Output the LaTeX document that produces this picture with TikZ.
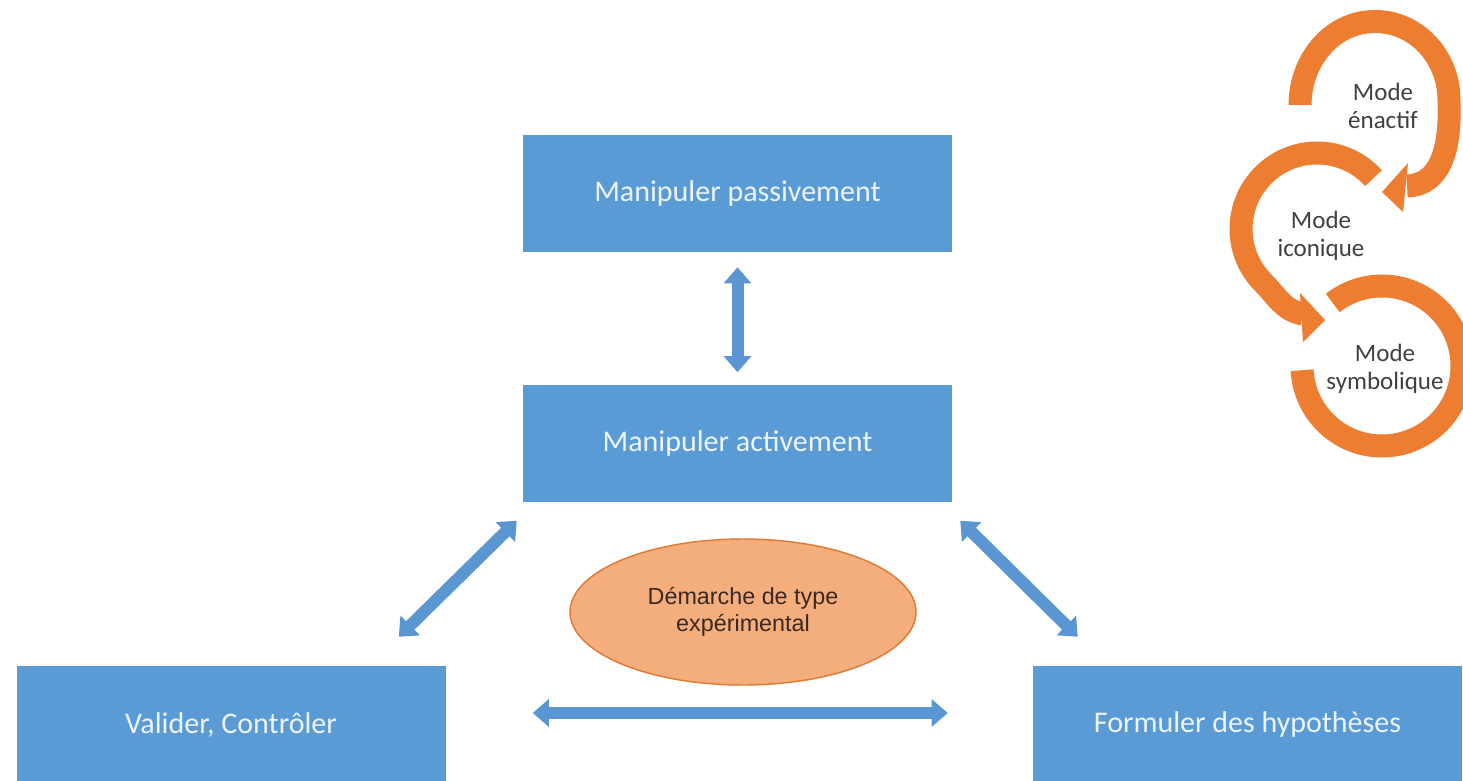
\documentclass[tikz,border=0pt]{standalone}
\usepackage{fontspec}
\setmainfont{Carlito}
\newfontfamily\arialf{Liberation Sans}
\usetikzlibrary{arrows.meta,shapes.geometric,calc}
\definecolor{boxblue}{HTML}{5B9BD5}
\definecolor{arrblue}{HTML}{5A96D2}
\definecolor{orng}{HTML}{ED7D31}
\definecolor{ellfill}{HTML}{F4AE7E}
\definecolor{elldraw}{HTML}{E07A35}
\definecolor{boxtext}{RGB}{236,244,252}
\definecolor{modetext}{HTML}{404040}
\definecolor{elltext}{RGB}{60,40,30}
\begin{document}
\begin{tikzpicture}[x=0.75pt,y=0.75pt,
  bluebox/.style={rectangle, fill=boxblue, minimum width=321.75pt, minimum height=87.75pt,
    inner sep=0pt, text=boxtext, font=\fontsize{22.5}{27}\selectfont},
  dbl/.style={draw=arrblue, line width=9pt,
    {Triangle[width=20pt,length=12pt]}-{Triangle[width=20pt,length=12pt]}},
  cyc/.style={draw=orng, line width=17.25pt},
  head/.style={fill=orng},
  modelabel/.style={text=modetext, align=center, inner sep=0pt,
    font=\fontsize{18.75}{21}\selectfont}
]
\useasboundingbox (0,0) rectangle (1463,-781);
\fill[white] (0,0) rectangle (1463,-781);

% boxes
\node[bluebox] (pp) at (737.5,-193.5) {Manipuler passivement};
\node[bluebox] (pa) at (737.5,-443) {Manipuler activement};
\node[bluebox] (vc) at (231,-724.5) {Valider, Contrôler};
\node[bluebox] (fh) at (1247.5,-724.5) {Formuler des hypothèses};

% ellipse
\node[ellipse, fill=ellfill, draw=elldraw, line width=1.1pt, minimum width=259.5pt,
  minimum height=109.5pt, inner sep=0pt, align=center, text=elltext,
  font=\arialf\fontsize{17.5}{20.5}\selectfont] (dem) at (743,-612)
  {Démarche de type\\expérimental};

% connector end points
\coordinate (v1) at ($(pp.south)+(0,-15)$);
\coordinate (v2) at ($(pa.north)+(0,12)$);
\coordinate (l1) at ($(pa.south west)+(-6,-19)$);
\coordinate (l2) at ($(vc.north east)+(-47,29)$);
\coordinate (r1) at ($(pa.south east)+(8,-19)$);
\coordinate (r2) at ($(fh.north west)+(45,29)$);
\coordinate (h1) at ($(vc.east)+(87,11.5)$);
\coordinate (h2) at ($(fh.west)+(-85,11.5)$);

\draw[dbl] (v1) -- (v2);
\draw[dbl] (l1) -- (l2);
\draw[dbl] (r1) -- (r2);
\draw[dbl] (h1) -- (h2);

% cycle on the right
\coordinate (C2) at (1317,-229);
\coordinate (C3) at (1382,-366);
\coordinate (e1) at (1407,-186);
\coordinate (e2) at (1303,-314);

% top arrow (enactif -> iconique)
\draw[cyc] (1300,-105) to[out=90,in=180] (1375,-21.5) to[out=0,in=90] (1449,-100)
  .. controls (1451,-150) and (1440,-185) .. (e1);
\fill[head] (1408,-163) -- (1403,-212) -- (1382,-192) -- cycle;

% middle arrow (iconique -> symbolique)
\draw[cyc] ($(C2)+(42:76)$) arc (42:225:76) to[out=-45,in=170] (e2);
\fill[head] (1300,-293) -- (1303,-342) -- (1325,-320) -- cycle;

% bottom arc (symbolique)
\draw[cyc] ($(C3)+(183:80)$) arc (183:488:80);

\node[modelabel] (me) at (1383,-106) {Mode\\énactif};
\node[modelabel] (mi) at (1321,-236) {Mode\\iconique};
\node[modelabel] (ms) at (1385,-369) {Mode\\symbolique};
\end{tikzpicture}
\end{document}
